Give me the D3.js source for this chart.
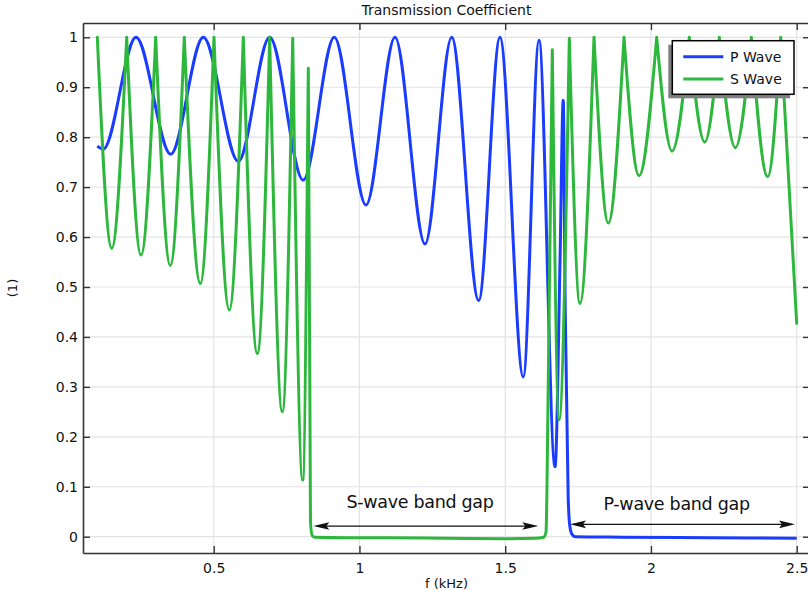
<!DOCTYPE html>
<html>
<head>
<meta charset="utf-8">
<script src="https://cdn.jsdelivr.net/npm/d3@7"></script>
<style>
body { margin: 0; background: #fff; }
text { font-family: "DejaVu Sans", sans-serif; }
</style>
</head>
<body>
<div id="chart"></div>
<script>
// values, f in kHz
var pFreq = [0.1007, 0.121, 0.2335, 0.3525, 0.4643, 0.5844, 0.692, 0.807, 0.9137, 1.0225,
             1.122, 1.2249, 1.3165, 1.409, 1.482, 1.562, 1.616, 1.671, 1.688, 1.699,
             1.706, 1.716, 1.722, 1.73, 1.74, 1.9, 2.2, 2.5];
var pVal  = [0.782, 0.776, 1.0, 0.766, 1.0, 0.7515, 1.0, 0.714, 1.0, 0.664,
             1.0, 0.586, 1.0, 0.4726, 1.0, 0.32, 0.994, 0.14, 0.55, 0.874,
             0.45, 0.08, 0.02, 0.004, 0.0, -0.001, -0.002, -0.003];

var sFreq = [0.1007, 0.150, 0.2015, 0.2506, 0.301, 0.3511, 0.3991, 0.454, 0.501, 0.5535,
             0.6015, 0.6496, 0.692, 0.7353, 0.771, 0.8053, 0.8245, 0.832, 0.838, 0.848,
             0.95, 1.1, 1.3, 1.5, 1.6, 1.632, 1.640, 1.6475, 1.6616, 1.6846,
             1.720, 1.7566, 1.8046, 1.8537, 1.9076, 1.959, 2.0197, 2.0722, 2.1316, 2.1844,
             2.2345, 2.2894, 2.3443, 2.4005, 2.4451, 2.5];
var sVal  = [1.0, 0.5775, 1.0, 0.564, 1.0, 0.543, 1.0, 0.507, 1.0, 0.454,
             1.0, 0.367, 1.0, 0.25, 0.998, 0.113, 0.938, 0.03, 0.002, -0.001,
             -0.002, -0.002, -0.003, -0.004, -0.003, -0.001, 0.01, 0.3, 0.975, 0.234,
             0.998, 0.467, 1.0, 0.628, 1.0, 0.723, 1.0, 0.772, 1.0, 0.79,
             1.0, 0.779, 1.0, 0.721, 1.0, 0.427];

var seriesNames = ["P Wave", "S Wave"];
var seriesColors = ["#1a3cff", "#2db83d"];

var xTicks = [0.5, 1, 1.5, 2, 2.5];
var xTickLabels = ["0.5", "1", "1.5", "2", "2.5"];
var yTicks = [0, 0.1, 0.2, 0.3, 0.4, 0.5, 0.6, 0.7, 0.8, 0.9, 1];
var yTickLabels = ["0", "0.1", "0.2", "0.3", "0.4", "0.5", "0.6", "0.7", "0.8", "0.9", "1"];

// band gap annotations
var gapLabels = ["S-wave band gap", "P-wave band gap"];
var gapFrom = [0.8417, 1.7223];
var gapTo = [1.6136, 2.4942];
var gapArrowY = [0.0214, 0.0248];
var gapTextX = [1.2077, 2.088];
var gapTextY = [0.0575, 0.0535];

var W = 808, H = 590;
var plotL = 83, plotR = 810, plotT = 23, plotB = 553;

var svg = d3.select("#chart")
    .append("svg")
        .attr("width", W)
        .attr("height", H);

var x = d3.scaleLinear().domain([0.0516, 2.5456]).range([plotL, plotR]);
var y = d3.scaleLinear().domain([-0.0326, 1.0286]).range([plotB, plotT]);

// grid
svg.append("g").selectAll("line")
    .data(xTicks).enter().append("line")
    .attr("x1", d => x(d)).attr("x2", d => x(d))
    .attr("y1", plotT).attr("y2", plotB)
    .attr("stroke", "#e3e3e3").attr("stroke-width", 1.2);
svg.append("g").selectAll("line")
    .data(yTicks).enter().append("line")
    .attr("x1", plotL).attr("x2", plotR)
    .attr("y1", d => y(d)).attr("y2", d => y(d))
    .attr("stroke", "#e3e3e3").attr("stroke-width", 1.2);

// curves
svg.append("clipPath").attr("id", "plotclip")
    .append("rect").attr("x", plotL).attr("y", plotT - 6)
    .attr("width", plotR - plotL).attr("height", plotB - plotT + 6);

var line = d3.line()
    .x(d => x(d[0]))
    .y(d => y(d[1]))
    .curve(d3.curveMonotoneX);

var pPts = pFreq.map((f, i) => [f, pVal[i]]);
var sPts = sFreq.map((f, i) => [f, sVal[i]]);

// S wave has sharp peaks: draw it arch by arch, split at the peaks
var arches = [], cur = [sPts[0]];
for (var i = 1; i < sPts.length; i++) {
    cur.push(sPts[i]);
    var isPeak = i < sPts.length - 1 && sPts[i][1] > 0.5 &&
        sPts[i][1] >= sPts[i - 1][1] && sPts[i][1] >= sPts[i + 1][1];
    if (isPeak) { arches.push(cur); cur = [sPts[i]]; }
}
arches.push(cur);

var curves = svg.append("g").attr("clip-path", "url(#plotclip)");
curves.append("path")
    .attr("d", line(pPts))
    .attr("fill", "none")
    .attr("stroke", seriesColors[0])
    .attr("stroke-width", 3)
    .attr("stroke-linejoin", "round");
curves.append("path")
    .attr("d", arches.map(a => line(a)).join(""))
    .attr("fill", "none")
    .attr("stroke", seriesColors[1])
    .attr("stroke-width", 3)
    .attr("stroke-linejoin", "round")
    .attr("stroke-linecap", "round");

// axes, ticks point inwards
function styleAxis(g) {
    g.select(".domain").attr("stroke", "#333").attr("stroke-width", 1.6);
    g.selectAll(".tick line").attr("stroke", "#333").attr("stroke-width", 1.4);
    g.selectAll(".tick text").attr("fill", "#111").attr("font-size", "14px")
        .attr("font-family", "DejaVu Sans, sans-serif");
}
svg.append("g")
    .attr("transform", "translate(0," + plotB + ")")
    .call(d3.axisBottom(x).tickValues(xTicks).tickFormat((d, i) => xTickLabels[i])
        .tickSizeInner(-7).tickSizeOuter(0).tickPadding(10))
    .call(styleAxis);
svg.append("g")
    .attr("transform", "translate(0," + plotT + ")")
    .call(d3.axisTop(x).tickValues(xTicks).tickFormat("")
        .tickSizeInner(-7).tickSizeOuter(0))
    .call(styleAxis);
svg.append("g")
    .attr("transform", "translate(" + plotL + ",0)")
    .call(d3.axisLeft(y).tickValues(yTicks).tickFormat((d, i) => yTickLabels[i])
        .tickSizeInner(-7).tickSizeOuter(0).tickPadding(5))
    .call(styleAxis);
svg.append("g")
    .attr("transform", "translate(" + plotR + ",0)")
    .call(d3.axisRight(y).tickValues(yTicks).tickFormat("")
        .tickSizeInner(-7).tickSizeOuter(0))
    .call(styleAxis);

// titles
svg.append("text")
    .attr("x", (plotL + plotR) / 2).attr("y", 15)
    .attr("text-anchor", "middle").attr("font-size", "14px").attr("fill", "#111")
    .text("Transmission Coefficient");
svg.append("text")
    .attr("x", (plotL + plotR) / 2).attr("y", 588)
    .attr("text-anchor", "middle").attr("font-size", "13px").attr("fill", "#111")
    .text("f (kHz)");
svg.append("text")
    .attr("transform", "translate(17," + (plotT + plotB) / 2 + ") rotate(-90)")
    .attr("text-anchor", "middle").attr("font-size", "13px").attr("fill", "#111")
    .text("(1)");

// band gap arrows
function arrowHead(xt, yt, dir) {
    // dir = +1 points right, -1 points left
    var L = 16, h = 3.8, n = 3;
    return "M" + xt + "," + yt +
        "L" + (xt - dir * L) + "," + (yt - h) +
        "L" + (xt - dir * (L - n)) + "," + yt +
        "L" + (xt - dir * L) + "," + (yt + h) + "Z";
}
var notes = svg.append("g");
gapLabels.forEach(function(lbl, i) {
    var x1 = x(gapFrom[i]), x2 = x(gapTo[i]), ya = y(gapArrowY[i]);
    notes.append("line")
        .attr("x1", x1 + 8).attr("x2", x2 - 8)
        .attr("y1", ya).attr("y2", ya)
        .attr("stroke", "#111").attr("stroke-width", 1.3);
    notes.append("path").attr("d", arrowHead(x1, ya, -1)).attr("fill", "#111");
    notes.append("path").attr("d", arrowHead(x2, ya, 1)).attr("fill", "#111");
    notes.append("text")
        .attr("x", x(gapTextX[i])).attr("y", y(gapTextY[i]))
        .attr("text-anchor", "middle")
        .attr("font-family", "Lato, sans-serif")
        .attr("font-size", "17.5px").attr("letter-spacing", "-0.3px")
        .attr("fill", "#111")
        .text(lbl);
});

// legend
var lg = svg.append("g");
lg.append("rect").attr("x", 668.3).attr("y", 44.7).attr("width", 121.7).attr("height", 53.6)
    .attr("fill", "#7f7f7f");
lg.append("rect").attr("x", 672.3).attr("y", 40.7).attr("width", 121.7).attr("height", 53.6)
    .attr("fill", "#fff").attr("stroke", "#000").attr("stroke-width", 1.5);
seriesNames.forEach(function(name, i) {
    var ly = 56.7 + i * 22.3;
    lg.append("line").attr("x1", 683.3).attr("x2", 723.3)
        .attr("y1", ly).attr("y2", ly)
        .attr("stroke", seriesColors[i]).attr("stroke-width", 3);
    lg.append("text").attr("x", 730).attr("y", ly + 5.2)
        .attr("font-size", "14px").attr("fill", "#111")
        .text(name);
});
</script>
</body>
</html>
